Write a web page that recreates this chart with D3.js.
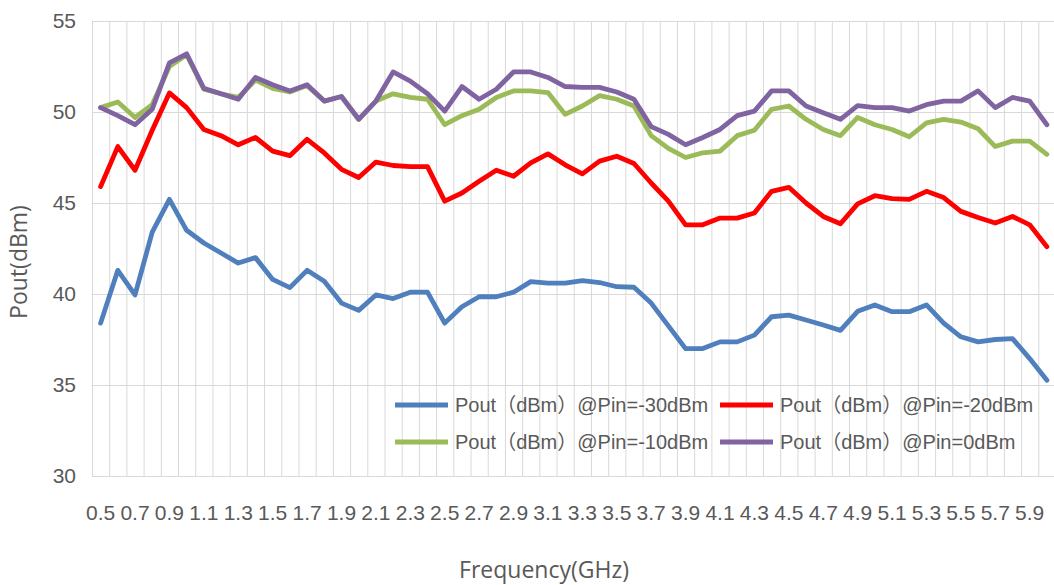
<!DOCTYPE html>
<html>
<head>
<meta charset="utf-8">
<script src="https://cdn.jsdelivr.net/npm/d3@7"></script>
<style>
    html, body { margin: 0; padding: 0; background: #fff; }
    #lineChartContainer { width: 1054px; height: 585px; overflow: hidden; }
</style>
</head>
<body>
<div id="lineChartContainer"></div>
<script>

// Frequency categories (GHz)
const frequencies = [
    "0.5", "0.6", "0.7", "0.8", "0.9", "1.0", "1.1", "1.2", "1.3", "1.4",
    "1.5", "1.6", "1.7", "1.8", "1.9", "2.0", "2.1", "2.2", "2.3", "2.4",
    "2.5", "2.6", "2.7", "2.8", "2.9", "3.0", "3.1", "3.2", "3.3", "3.4",
    "3.5", "3.6", "3.7", "3.8", "3.9", "4.0", "4.1", "4.2", "4.3", "4.4",
    "4.5", "4.6", "4.7", "4.8", "4.9", "5.0", "5.1", "5.2", "5.3", "5.4",
    "5.5", "5.6", "5.7", "5.8", "5.9", "6.0"
];

// only every other category gets a label
const xTickLabels = [
    "0.5", "0.7", "0.9", "1.1", "1.3", "1.5", "1.7", "1.9", "2.1", "2.3",
    "2.5", "2.7", "2.9", "3.1", "3.3", "3.5", "3.7", "3.9", "4.1", "4.3",
    "4.5", "4.7", "4.9", "5.1", "5.3", "5.5", "5.7", "5.9"
];

const yTicks = [30, 35, 40, 45, 50, 55];

// Pout (dBm) per input power
const poutPinMinus30 = [
    38.4, 41.3, 39.95, 43.4, 45.2, 43.5, 42.8, 42.25, 41.7, 42.0,
    40.8, 40.35, 41.3, 40.7, 39.5, 39.1, 39.95, 39.75, 40.1, 40.1,
    38.4, 39.3, 39.85, 39.85, 40.1, 40.68, 40.6, 40.6, 40.74, 40.63,
    40.4, 40.37, 39.5, 38.25, 37.0, 37.0, 37.37, 37.37, 37.74, 38.75,
    38.84, 38.57, 38.3, 38.0, 39.05, 39.4, 39.03, 39.03, 39.4, 38.4,
    37.65, 37.37, 37.5, 37.55, 36.45, 35.26
];

const poutPinMinus20 = [
    45.9, 48.1, 46.8, 49.0, 51.05, 50.24, 49.04, 48.7, 48.2, 48.6,
    47.85, 47.6, 48.5, 47.75, 46.85, 46.4, 47.25, 47.06, 47.0, 47.0,
    45.1, 45.55, 46.2, 46.8, 46.47, 47.2, 47.7, 47.1, 46.6, 47.3,
    47.57, 47.17, 46.1, 45.1, 43.8, 43.8, 44.17, 44.17, 44.45, 45.64,
    45.86, 45.0, 44.26, 43.86, 44.95, 45.4, 45.24, 45.2, 45.64, 45.3,
    44.54, 44.2, 43.9, 44.26, 43.8, 42.6
];

const poutPinMinus10 = [
    50.24, 50.55, 49.7, 50.4, 52.5, 53.15, 51.25, 51.0, 50.8, 51.75,
    51.3, 51.1, 51.45, 50.6, 50.85, 49.6, 50.6, 51.0, 50.8, 50.7,
    49.3, 49.8, 50.15, 50.8, 51.16, 51.16, 51.07, 49.87, 50.33, 50.9,
    50.7, 50.33, 48.7, 48.0, 47.5, 47.76, 47.85, 48.7, 49.0, 50.15,
    50.33, 49.6, 49.04, 48.7, 49.7, 49.3, 49.04, 48.64, 49.4, 49.6,
    49.45, 49.08, 48.1, 48.4, 48.4, 47.67
];

const poutPin0 = [
    50.24, 49.8, 49.3, 50.15, 52.7, 53.2, 51.3, 51.0, 50.7, 51.9,
    51.5, 51.15, 51.5, 50.6, 50.85, 49.6, 50.6, 52.2, 51.7, 51.0,
    50.05, 51.4, 50.7, 51.25, 52.2, 52.2, 51.9, 51.4, 51.35, 51.35,
    51.1, 50.7, 49.2, 48.77, 48.2, 48.6, 49.04, 49.8, 50.05, 51.16,
    51.16, 50.33, 49.96, 49.6, 50.35, 50.24, 50.24, 50.05, 50.4, 50.6,
    50.6, 51.16, 50.24, 50.8, 50.6, 49.3
];

const seriesNames = [
    "Pout（dBm）@Pin=-30dBm",
    "Pout（dBm）@Pin=-20dBm",
    "Pout（dBm）@Pin=-10dBm",
    "Pout（dBm）@Pin=0dBm"
];
const seriesValues = [poutPinMinus30, poutPinMinus20, poutPinMinus10, poutPin0];
const seriesColours = ["#4F7FBC", "#FF0000", "#9BBB59", "#8064A2"];


function drawChart() {

    const container = d3.select("#lineChartContainer");
    container.selectAll("*").remove();

    const width = 1054;
    const height = 585;

    const svg = container
        .append("svg")
        .attr("width", width)
        .attr("height", height)
        .attr("viewBox", `0 0 ${width} ${height}`);

    // plot area runs a little past the right edge, as in the cropped original
    const margin = { top: 21, left: 92 };
    const innerWidth = 963.5;
    const innerHeight = 455;

    const g = svg
        .append("g")
        .attr("transform", `translate(${margin.left},${margin.top})`);

    const x = d3.scaleBand()
        .domain(frequencies)
        .range([0, innerWidth])
        .padding(0);

    const y = d3.scaleLinear()
        .domain([30, 55])
        .range([innerHeight, 0]);

    const gridColour = "#D9D9D9";
    const textColour = "#595959";

    // vertical grid lines on the category boundaries
    const boundaries = frequencies.map(f => x(f)).concat([innerWidth]);
    g.append("g")
        .selectAll("line")
        .data(boundaries)
        .enter()
        .append("line")
        .attr("x1", d => d + 0.5)
        .attr("x2", d => d + 0.5)
        .attr("y1", 0)
        .attr("y2", innerHeight)
        .attr("stroke", gridColour)
        .attr("stroke-width", 1);

    // horizontal grid lines
    g.append("g")
        .selectAll("line")
        .data(yTicks)
        .enter()
        .append("line")
        .attr("x1", 0)
        .attr("x2", innerWidth)
        .attr("y1", d => Math.round(y(d)) + 0.5)
        .attr("y2", d => Math.round(y(d)) + 0.5)
        .attr("stroke", gridColour)
        .attr("stroke-width", 1);

    // y axis labels
    const yAxis = g.append("g")
        .call(d3.axisLeft(y).tickValues(yTicks).tickSize(0).tickPadding(16));
    yAxis.select(".domain").remove();
    yAxis.selectAll("text")
        .style("font-family", "'Liberation Sans', Arial, sans-serif")
        .style("font-size", "21px")
        .style("fill", textColour);

    // x axis labels
    const xAxis = g.append("g")
        .attr("transform", `translate(0,${innerHeight})`)
        .call(d3.axisBottom(x).tickValues(xTickLabels).tickSize(0).tickPadding(29));
    xAxis.select(".domain").remove();
    xAxis.selectAll("text")
        .style("font-family", "'Liberation Sans', Arial, sans-serif")
        .style("font-size", "21px")
        .style("fill", textColour);

    // the series
    const line = d3.line()
        .x((d, i) => x(frequencies[i]) + x.bandwidth() / 2)
        .y(d => y(d));

    seriesValues.forEach((values, i) => {
        g.append("path")
            .datum(values)
            .attr("fill", "none")
            .attr("stroke", seriesColours[i])
            .attr("stroke-width", 4.8)
            .attr("stroke-linejoin", "round")
            .attr("stroke-linecap", "round")
            .attr("d", line);
    });

    // Legend: two columns, two rows, inside the plot
    const legendCols = [395, 720];
    const legendRows = [405, 442];

    const legend = svg.append("g");
    seriesNames.forEach((name, i) => {
        const lx = legendCols[i % 2];
        const ly = legendRows[Math.floor(i / 2)];
        legend.append("line")
            .attr("x1", lx)
            .attr("x2", lx + 53)
            .attr("y1", ly)
            .attr("y2", ly)
            .attr("stroke", seriesColours[i])
            .attr("stroke-width", 4.8);
        legend.append("text")
            .attr("x", lx + 60)
            .attr("y", ly)
            .attr("dy", "0.35em")
            .style("font-family", "'Liberation Sans', 'Noto Sans CJK SC', sans-serif")
            .style("font-size", "20px")
            .style("fill", textColour)
            .text(name);
    });

    // axis titles
    svg.append("text")
        .attr("text-anchor", "middle")
        .attr("x", 544)
        .attr("y", 578)
        .style("font-family", "'Open Sans', sans-serif")
        .style("font-size", "23px")
        .style("fill", textColour)
        .text("Frequency(GHz)");

    svg.append("text")
        .attr("text-anchor", "middle")
        .attr("transform", "translate(27,262) rotate(-90)")
        .style("font-family", "'Open Sans', sans-serif")
        .style("font-size", "23px")
        .style("fill", textColour)
        .text("Pout(dBm)");
}

drawChart();
</script>
</body>
</html>
